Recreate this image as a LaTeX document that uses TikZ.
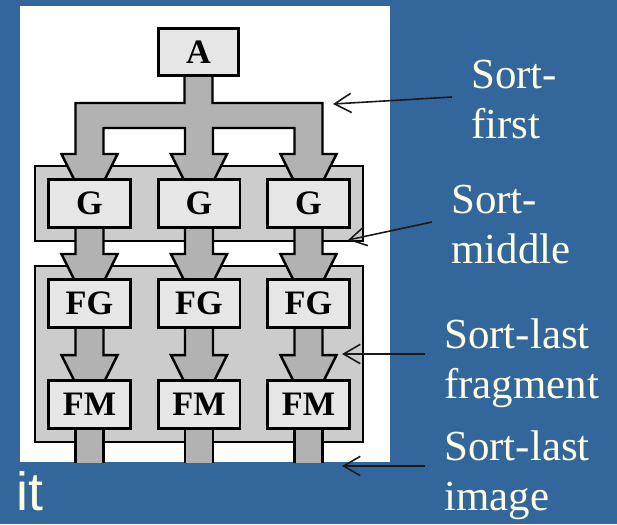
\documentclass[tikz,border=0pt]{standalone}
\usepackage{fontspec}
\setmainfont{Liberation Serif}
\setsansfont{Liberation Sans}
\usepackage{tikz}
\usetikzlibrary{arrows.meta,positioning,fit,calc,backgrounds}
\pgfdeclarelayer{groups}
\pgfsetlayers{groups,background,main}
\definecolor{slideblue}{HTML}{33669A}
\definecolor{cream}{HTML}{FFFFE6}
\definecolor{shaftgray}{HTML}{B2B2B2}
\definecolor{groupgray}{HTML}{CCCCCC}
\definecolor{boxgray}{HTML}{E6E6E6}
\tikzset{
  stagebox/.style={
    rectangle, draw=black, fill=boxgray, line width=1.7pt,
    minimum width=1.64cm, minimum height=0.96cm,
    font=\fontsize{19.5}{21}\selectfont\bfseries, inner sep=0pt
  },
  groupbox/.style={
    rectangle, draw=black, fill=groupgray, line width=1.4pt,
    inner sep=0.24cm
  },
  blockarrow/.style={
    draw=black, fill=shaftgray, line width=1.4pt, line join=miter
  },
  % ── arrow head that ends under the next box ──
  blockhead/.style={insert path={
    -- ($(#1.north)+(-14,-24)$) -- ($(#1.north)+(-28,-24)$)
    -- ($(#1.north)+(-14,4)$) -- ($(#1.north)+(14,4)$)
    -- ($(#1.north)+(28,-24)$) -- ($(#1.north)+(14,-24)$)}
  },
  sortlabel/.style={
    font=\fontsize{24.4}{28.4}\selectfont, text=cream,
    align=left, inner sep=0pt, anchor=base west
  },
  pointer/.style={
    -{Straight Barb[length=9.5pt,width=11pt]}, line width=0.9pt, color=black!90
  },
}

\begin{document}
\begin{tikzpicture}[x=0.02cm, y=-0.02cm]

% Slide and figure panel
\useasboundingbox (0,0) rectangle (617,524);
\begin{pgfonlayer}{groups}
  \fill[slideblue] (0,0) rectangle (617,524);
  \node[fill=white, inner sep=0pt, anchor=north west,
        minimum width=7.4cm, minimum height=9.12cm] (panel) at (20,6) {};
\end{pgfonlayer}

% Stages
\node[stagebox, minimum width=1.6cm, minimum height=0.94cm] (a) at (198.5,52) {A};
\node[stagebox] (g1) at (89.5,203.5) {G};
\node[stagebox] (g2) at (199,203.5) {G};
\node[stagebox] (g3) at (308.5,203.5) {G};
\node[stagebox] (fg1) at (89.5,303.5) {FG};
\node[stagebox] (fg2) at (199,303.5) {FG};
\node[stagebox] (fg3) at (308.5,303.5) {FG};
\node[stagebox] (fm1) at (89.5,404.5) {FM};
\node[stagebox] (fm2) at (199,404.5) {FM};
\node[stagebox] (fm3) at (308.5,404.5) {FM};

% Group boxes behind the arrows
\begin{pgfonlayer}{groups}
  \node[groupbox, fit=(g1)(g3)] (gbox) {};
  \node[groupbox, fit=(fg1)(fm3)] (fbox) {};
\end{pgfonlayer}

% Block arrows
\begin{scope}[on background layer]
  \draw[blockarrow] ($(a.south)+(-14,-4)$) |- ($(g1.north)+(-14,-75)$) [blockhead=g1]
    -- ($(g1.north)+(14,-50)$) -- ($(g2.north)+(-14,-50)$) [blockhead=g2]
    -- ($(g2.north)+(14,-50)$) -- ($(g3.north)+(-14,-50)$) [blockhead=g3]
    -- ($(g3.north)+(14,-75)$) -| ($(a.south)+(14,-4)$) -- cycle;
  \foreach \i in {1,2,3} {
    \draw[blockarrow] ($(g\i.south)+(-14,-4)$) [blockhead=fg\i] -- ($(g\i.south)+(14,-4)$) -- cycle;
    \draw[blockarrow] ($(fg\i.south)+(-14,-4)$) [blockhead=fm\i] -- ($(fg\i.south)+(14,-4)$) -- cycle;
    \fill[shaftgray] ($(fm\i.south)+(-14,-4)$) rectangle ($(fm\i.south |- panel.south)+(14,0)$);
    \draw[line width=1.4pt] ($(fm\i.south)+(-14,-4)$) -- ($(fm\i.south |- panel.south)+(-14,0)$);
    \draw[line width=1.4pt] ($(fm\i.south)+(14,-4)$) -- ($(fm\i.south |- panel.south)+(14,0)$);
  }
\end{scope}

% Labels
\node[sortlabel] (sfirst) at (471,138) {Sort-\\first};
\node[sortlabel] (smiddle) at (451,263) {Sort-\\middle};
\node[sortlabel] (slfrag) at (444,398) {Sort-last\\fragment};
\node[sortlabel] (slimage) at (444,510) {Sort-last\\image};
\node[font=\sffamily\fontsize{30.6}{34}\selectfont, text=cream, inner sep=0pt,
      anchor=base west] (itword) at (16.5,510) {it};

% Pointers
\coordinate (sfirst-tail) at (452,97);
\coordinate (sfirst-tip) at (333,104);
\coordinate (smiddle-tail) at (432,222);
\coordinate (smiddle-tip) at (348,240);
\coordinate (slfrag-tail) at (425,354);
\coordinate (slfrag-tip) at (342,354);
\coordinate (slimage-tail) at (425,466);
\coordinate (slimage-tip) at (342,466);
\draw[pointer] (sfirst-tail) -- (sfirst-tip);
\draw[pointer] (smiddle-tail) -- (smiddle-tip);
\draw[pointer] (slfrag-tail) -- (slfrag-tip);
\draw[pointer] (slimage-tail) -- (slimage-tip);

\end{tikzpicture}
\end{document}
